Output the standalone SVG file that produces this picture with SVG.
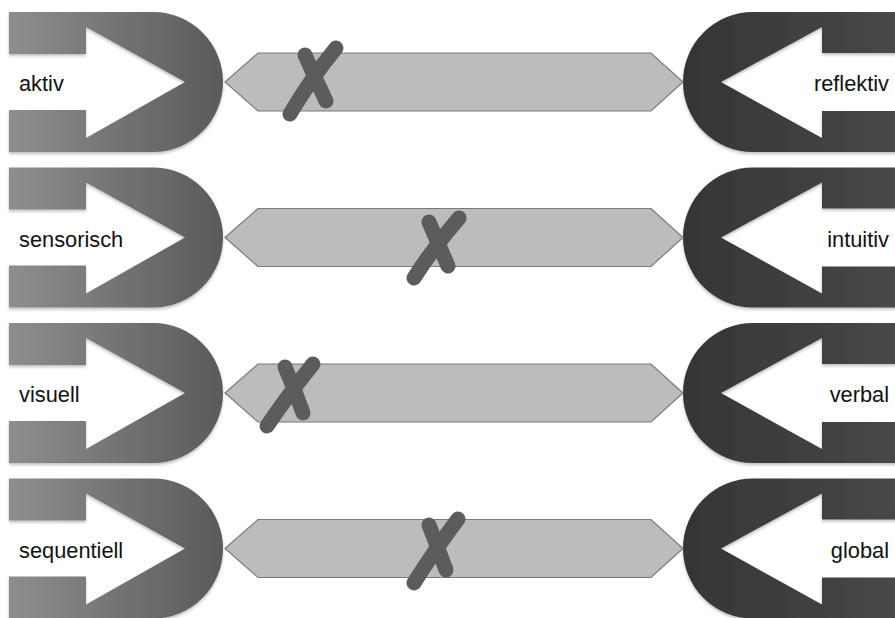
<svg xmlns="http://www.w3.org/2000/svg" width="895" height="618" viewBox="0 0 895 618">
<style>
.lbl{font-family:"Liberation Sans",Arial,sans-serif;font-size:21.8px;fill:#111}
.bar{fill:#bcbcbc;stroke:#7a7a7a;stroke-width:1.2}
.x{fill:none;stroke:#5c5c5c;stroke-width:15;stroke-linecap:round;stroke-linejoin:round}
</style>
<defs>
<linearGradient id="gL" x1="0" y1="0" x2="1" y2="0">
<stop offset="0" stop-color="#8e8e8e"/>
<stop offset="1" stop-color="#5a5a5a"/>
</linearGradient>
<linearGradient id="gR" x1="0" y1="0" x2="1" y2="0">
<stop offset="0" stop-color="#353535"/>
<stop offset="1" stop-color="#484848"/>
</linearGradient>
<filter id="sh" x="-5%" y="-5%" width="110%" height="115%">
<feDropShadow dx="0" dy="2" stdDeviation="1.5" flood-color="#000" flood-opacity="0.25"/>
</filter>
<path id="dL" d="M9,12 H153 A70,70 0 0 1 153,152 H9 V110 H86 V138 L185,82 L86,27 V54 H9 Z" fill="url(#gL)" filter="url(#sh)"/>
<path id="dR" d="M897,12 H753 A70,70 0 0 0 753,152 H897 V111 H822 V138 L721,82 L822,27 V53 H897 Z" fill="url(#gR)" filter="url(#sh)"/>
<polygon id="hx" class="bar" points="225,82 258,53 651,53 683,82 651,111 258,111"/>
</defs>
<g id="left-aktiv"><use href="#dL"/><text class="lbl" x="19" y="91">aktiv</text></g>
<g id="right-reflektiv"><use href="#dR"/><text class="lbl" x="889" y="91" text-anchor="end">reflektiv</text></g>
<g id="left-sensorisch"><use href="#dL" transform="translate(0,155.5)"/><text class="lbl" x="19" y="247">sensorisch</text></g>
<g id="right-intuitiv"><use href="#dR" transform="translate(0,155.5)"/><text class="lbl" x="889" y="247" text-anchor="end">intuitiv</text></g>
<g id="left-visuell"><use href="#dL" transform="translate(0,311)"/><text class="lbl" x="19" y="402">visuell</text></g>
<g id="right-verbal"><use href="#dR" transform="translate(0,311)"/><text class="lbl" x="889" y="402" text-anchor="end">verbal</text></g>
<g id="left-sequentiell"><use href="#dL" transform="translate(0,466.5)"/><text class="lbl" x="19" y="558">sequentiell</text></g>
<g id="right-global"><use href="#dR" transform="translate(0,466.5)"/><text class="lbl" x="889" y="558" text-anchor="end">global</text></g>
<g id="connectors">
<g id="bar1"><use href="#hx"/>
<path class="x" d="M305,55 Q315,78 326,101"/>
<path class="x" d="M336,48 Q310,80 290,114"/></g>
<g id="bar2"><use href="#hx" transform="translate(0,155.5)"/>
<path class="x" d="M429,222 Q439,245 448,266"/>
<path class="x" d="M459,218 Q433,248 414,278"/></g>
<g id="bar3"><use href="#hx" transform="translate(0,311)"/>
<path class="x" d="M285,367 Q295,390 303,413"/>
<path class="x" d="M313,364 Q288,395 267,426"/></g>
<g id="bar4"><use href="#hx" transform="translate(0,466.5)"/>
<path class="x" d="M429,525 Q438,548 446,570"/>
<path class="x" d="M458,519 Q434,551 414,583"/></g>
</g>
</svg>
